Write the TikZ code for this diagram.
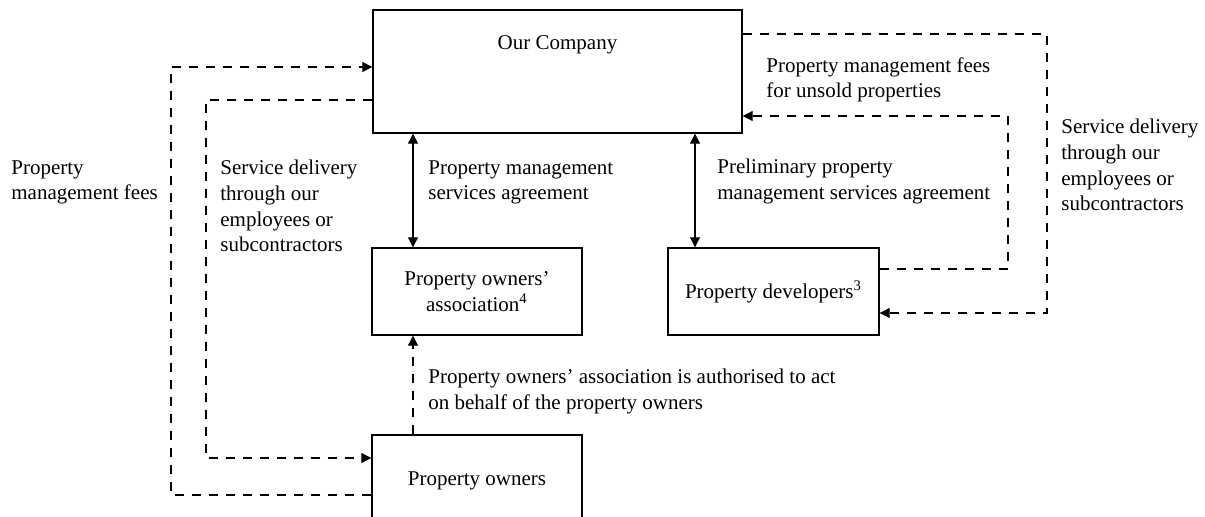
\documentclass[tikz,border=0pt]{standalone}
\usepackage{fontspec}
\setmainfont{Liberation Serif}
\usetikzlibrary{arrows.meta}
\begin{document}
\begin{tikzpicture}[x=0.5pt,y=-0.5pt,
  font=\fontsize{10.5}{12.8}\selectfont,
  box/.style={draw, line width=0.7pt, inner sep=0pt, align=center},
  lbl/.style={anchor=north west, inner sep=0pt, align=left},
  tip/.tip={Triangle[length=5pt,width=5pt]},
  flow/.style={line width=0.55pt, dash pattern=on 4.5pt off 4pt, -tip},
  link/.style={line width=0.55pt, tip-tip}]
\useasboundingbox (0,0) rectangle (1205,517);
\clip (0,0) rectangle (1205,517);

% boxes
\node[box, minimum width=184.5pt, minimum height=61.5pt,
  label={[anchor=base, inner sep=0pt, yshift=-20pt]north:Our Company}] (oc) at (557.5,71.5) {};
\node[box, minimum width=105pt, minimum height=43.5pt] (assoc) at (477,291.5)
  {Property owners’\\association\textsuperscript{4}};
\node[box, minimum width=105.5pt, minimum height=43.5pt] (dev) at (773.5,291.5)
  {Property developers\textsuperscript{3}};
\node[box, minimum width=105pt, minimum height=46pt] (owners) at (477,481)
  {Property owners};

% agreements
\draw[link] (oc.south -| 413,0) -- (assoc.north -| 413,0);
\draw[link] (oc.south -| 695,0) -- (dev.north -| 695,0);

% fees and services
\draw[flow] (owners.west |- 0,495) -| (171,67) -- (oc.west |- 0,67);
\draw[flow] (oc.west |- 0,100) -| (206,458) -- (owners.west |- 0,458);
\draw[flow] (owners.north -| 413,0) -- (assoc.south -| 413,0);
\draw[flow] (dev.east |- 0,269) -| (1008,116) -- (oc.east |- 0,116);
\draw[flow] (oc.east |- 0,34) -| (1047,313) -- (dev.east |- 0,313);

% labels
\node[lbl] (t1) at (11,160) {Property\\management fees};
\node[lbl] (t2) at (220,160) {Service delivery\\through our\\employees or\\subcontractors};
\node[lbl] (t3) at (428,160) {Property management\\services agreement};
\node[lbl] (t4) at (717,159) {Preliminary property\\management services agreement};
\node[lbl] (t5) at (766,57) {Property management fees\\for unsold properties};
\node[lbl] (t6) at (1061,119) {Service delivery\\through our\\employees or\\subcontractors};
\node[lbl] (t7) at (428,369) {Property owners’ association is authorised to act\\on behalf of the property owners};
\end{tikzpicture}
\end{document}
